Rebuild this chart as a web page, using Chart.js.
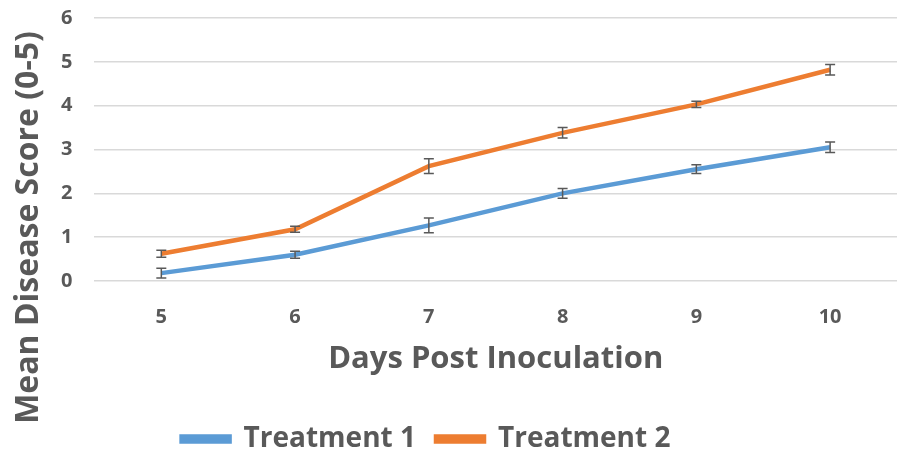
<!DOCTYPE html>
<html>
<head>
<meta charset="utf-8">
<script src="https://cdn.jsdelivr.net/npm/chart.js@4"></script>
<style>
  html, body { margin: 0; padding: 0; background: #fff; }
  #wrap { width: 897px; height: 455px; position: relative; }
</style>
</head>
<body>
<div id="wrap"><canvas id="lineChart"></canvas></div>
<script>
// data
const days = ['5', '6', '7', '8', '9', '10'];
const treatment1 = [0.18, 0.6, 1.27, 2.0, 2.55, 3.05];
const treatment1Err = [0.11, 0.08, 0.17, 0.11, 0.1, 0.12];
const treatment2 = [0.62, 1.18, 2.62, 3.38, 4.03, 4.82];
const treatment2Err = [0.08, 0.07, 0.17, 0.12, 0.07, 0.12];
const yTicks = [0, 1, 2, 3, 4, 5, 6];
const yTitle = 'Mean Disease Score (0-5)';

const textColor = '#595959';
const fontName = '"Open Sans", sans-serif';

// petites barres d'erreur dessinées par-dessus les lignes
const errorBars = {
    id: 'errorBars',
    afterDatasetsDraw(chart) {
        const ctx = chart.ctx;
        const yScale = chart.scales.y;
        chart.data.datasets.forEach((ds, di) => {
            const meta = chart.getDatasetMeta(di);
            ds.errors.forEach((e, i) => {
                const x = meta.data[i].x;
                const top = yScale.getPixelForValue(ds.data[i] + e);
                const bot = yScale.getPixelForValue(ds.data[i] - e);
                ctx.save();
                ctx.strokeStyle = '#595959';
                ctx.lineWidth = 1.5;
                ctx.beginPath();
                ctx.moveTo(x, top); ctx.lineTo(x, bot);
                ctx.moveTo(x - 5, top); ctx.lineTo(x + 5, top);
                ctx.moveTo(x - 5, bot); ctx.lineTo(x + 5, bot);
                ctx.stroke();
                ctx.restore();
            });
        });
    }
};

// titre Y centré sur toute la hauteur (comme dans Excel), légende un peu déplacée
const sideTitle = {
    id: 'sideTitle',
    afterLayout(chart) {
        const lg = chart.legend;
        lg.left -= 50; lg.right -= 50;
        lg.top += 8; lg.bottom += 8;
    },
    afterDraw(chart) {
        const ctx = chart.ctx;
        ctx.save();
        ctx.translate(29, chart.height / 2);
        ctx.rotate(-Math.PI / 2);
        ctx.fillStyle = textColor;
        ctx.font = 'bold 32px ' + fontName;
        ctx.textAlign = 'center';
        ctx.textBaseline = 'middle';
        ctx.fillText(yTitle, 0, 0);
        ctx.restore();
    }
};

new Chart(document.getElementById('lineChart'), {
    type: 'line',
    data: {
        labels: days,
        datasets: [{
            label: 'Treatment 1',
            data: treatment1,
            errors: treatment1Err,
            borderColor: '#5B9BD5',
            backgroundColor: '#5B9BD5',
            borderWidth: 4.5,
            pointRadius: 0,
            tension: 0
        }, {
            label: 'Treatment 2',
            data: treatment2,
            errors: treatment2Err,
            borderColor: '#ED7D31',
            backgroundColor: '#ED7D31',
            borderWidth: 4.5,
            pointRadius: 0,
            tension: 0
        }]
    },
    options: {
        responsive: true,
        maintainAspectRatio: false,
        animation: false,
        layout: { padding: { top: 0, right: 0, left: 55, bottom: 0 } },
        plugins: {
            tooltip: { enabled: false },
            legend: {
                position: 'bottom',
                labels: {
                    color: textColor,
                    font: { family: fontName, size: 28, weight: 'bold' },
                    boxWidth: 48,
                    boxHeight: 5,
                    padding: 20
                }
            }
        },
        scales: {
            x: {
                offset: true,
                grid: { display: false },
                border: { display: false },
                ticks: {
                    color: textColor,
                    padding: 18,
                    font: { family: fontName, size: 20, weight: 'bold', lineHeight: 1 }
                },
                title: {
                    display: true,
                    text: 'Days Post Inoculation',
                    color: textColor,
                    font: { family: fontName, size: 31, weight: 'bold', lineHeight: 1 },
                    padding: { top: -1, bottom: 22 }
                }
            },
            y: {
                min: 0,
                max: 6,
                afterBuildTicks: axis => { axis.ticks = yTicks.map(v => ({ value: v })); },
                grid: { color: '#d9d9d9', lineWidth: 1.5, drawTicks: true, tickLength: 16, tickColor: 'rgba(0,0,0,0)' },
                border: { display: false },
                ticks: {
                    color: textColor,
                    padding: 6,
                    font: { family: fontName, size: 20, weight: 'bold' }
                }
            }
        }
    },
    plugins: [errorBars, sideTitle]
});
</script>
</body>
</html>
